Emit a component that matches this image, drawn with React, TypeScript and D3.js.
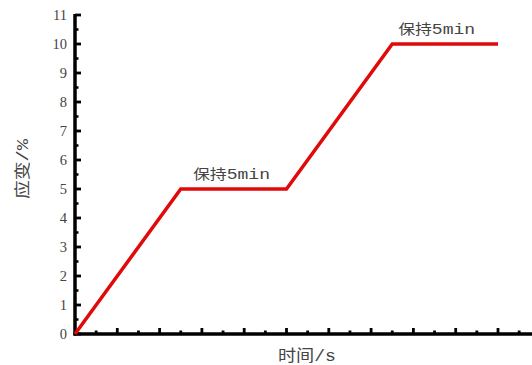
import React from "react";
import * as d3 from "d3";

// Strain–time loading path: ramp, 5 min hold, ramp, 5 min hold
const timeMin = [0, 5, 10, 15, 20];
const strainPct = [0, 5, 5, 10, 10];
const yTickValues = [0, 1, 2, 3, 4, 5, 6, 7, 8, 9, 10, 11];
const holdLabelCjk = ["保持", "保持"];
const holdLabelLatin = ["5min", "5min"];
const holdLabelTime = [7.4, 17.1];
const holdLabelStrain = [5, 10];

const W = 532;
const H = 365;

const CJK = "'Noto Sans CJK SC', sans-serif";
const MONO = "'Liberation Mono', 'DejaVu Sans Mono', monospace";
const SERIF = "'Liberation Serif', 'DejaVu Serif', serif";

export default function App() {
  const x = d3.scaleLinear().domain([0, 20]).range([75, 498]);
  const y = d3.scaleLinear().domain([0, 11]).range([334, 15]);

  const line = d3
    .line<number>()
    .x((_, i) => x(timeMin[i]))
    .y((d) => y(d));

  const xMinor = d3.range(1, 22);
  const yMinor = d3.range(0.5, 11, 1);
  const x0 = x(0);
  const y0 = y(0);

  return (
    <svg
      width={W}
      height={H}
      style={{ position: "fixed", left: 0, top: 0, background: "#fff" }}
    >
      {/* y axis ticks (inward) */}
      {yTickValues.map((v) => (
        <g key={"yt" + v}>
          <line x1={x0} x2={x0 + 6} y1={y(v)} y2={y(v)} stroke="#000" strokeWidth={2.8} />
          <text
            x={67}
            y={y(v)}
            dy="0.35em"
            textAnchor="end"
            fontFamily={SERIF}
            fontSize={14.5}
            fill="#444"
          >
            {v}
          </text>
        </g>
      ))}
      {yMinor.map((v) => (
        <line key={"ym" + v} x1={x0} x2={x0 + 3.5} y1={y(v)} y2={y(v)} stroke="#000" strokeWidth={2.5} />
      ))}

      {/* x axis ticks (inward), major every 2 min */}
      {xMinor.map((v) => (
        <line
          key={"xt" + v}
          x1={x(v)}
          x2={x(v)}
          y1={y0}
          y2={y0 - (v % 2 === 0 ? 6 : 3.5)}
          stroke="#000"
          strokeWidth={2.8}
        />
      ))}

      {/* axis lines */}
      <line x1={x0} x2={x0} y1={y(11) - 1} y2={y0 + 1.5} stroke="#000" strokeWidth={3.5} />
      <line x1={x0 - 1.5} x2={W} y1={y0} y2={y0} stroke="#000" strokeWidth={3.5} />

      {/* strain path */}
      <path
        d={line(strainPct) || ""}
        fill="none"
        stroke="#e10a0a"
        strokeWidth={3.5}
        strokeLinejoin="miter"
      />

      {/* hold annotations */}
      {holdLabelCjk.map((t, i) => (
        <text
          key={"hl" + i}
          x={x(holdLabelTime[i])}
          y={y(holdLabelStrain[i]) - 10}
          textAnchor="middle"
          fontSize={14}
          fill="#444"
          textLength={77}
          lengthAdjust="spacingAndGlyphs"
        >
          <tspan fontFamily={CJK}>{t}</tspan>
          <tspan fontFamily={MONO} fontSize={15}>{holdLabelLatin[i]}</tspan>
        </text>
      ))}

      {/* axis titles */}
      <text
        x={307}
        y={355}
        dy="0.35em"
        textAnchor="middle"
        fontSize={16}
        fill="#444"
        textLength={58}
        lengthAdjust="spacingAndGlyphs"
      >
        <tspan fontFamily={CJK}>时间</tspan>
        <tspan fontFamily={MONO}>/s</tspan>
      </text>
      <text
        transform={`translate(22,169) rotate(-90)`}
        dy="0.35em"
        textAnchor="middle"
        fontSize={16}
        fill="#444"
        textLength={60}
        lengthAdjust="spacingAndGlyphs"
      >
        <tspan fontFamily={CJK}>应变</tspan>
        <tspan fontFamily={MONO}>/%</tspan>
      </text>
    </svg>
  );
}
